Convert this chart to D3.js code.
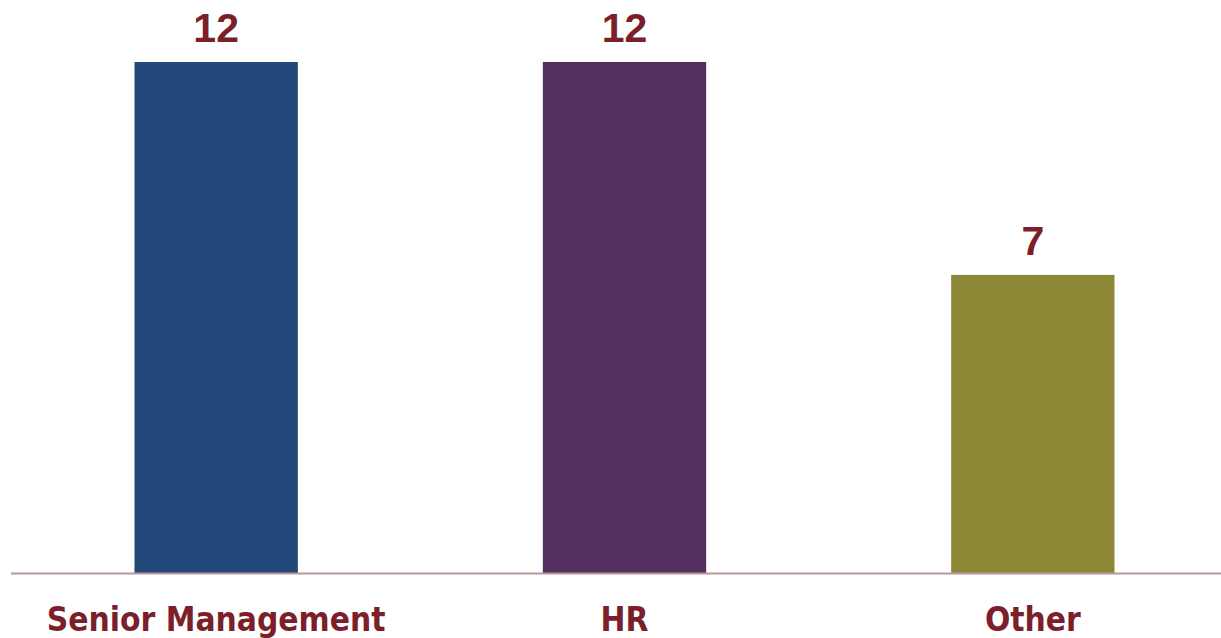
<!DOCTYPE html>
<html><head><meta charset="utf-8">
<script src="https://cdn.jsdelivr.net/npm/d3@7"></script>
<style>body{margin:0;background:#fff}svg{display:block}</style>
</head><body>
<svg id="c" width="1221" height="638"></svg>
<script>
const categories = ["Senior Management", "HR", "Other"];
const values = [12, 12, 7];
const colors = ["#224778", "#532F62", "#8C8734"];

const svg = d3.select("#c");
const baseY = 573;
const x = d3.scaleBand().domain(categories).range([12, 1237]).paddingInner(0.6).paddingOuter(0.3);
const y = d3.scaleLinear().domain([0, 12]).range([baseY, 62]);

svg.selectAll("rect.bar").data(values).join("rect")
  .attr("class","bar")
  .attr("x",(d,i)=>x(categories[i]))
  .attr("width",x.bandwidth())
  .attr("y",d=>y(d))
  .attr("height",d=>baseY-y(d))
  .attr("fill",(d,i)=>colors[i]);

svg.append("line").attr("x1",11).attr("x2",1221).attr("y1",baseY+0.5).attr("y2",baseY+0.5)
  .attr("stroke","#B9989C").attr("stroke-width",2);

svg.selectAll("text.val").data(values).join("text")
  .attr("class","val")
  .attr("x",(d,i)=>x(categories[i])+x.bandwidth()/2)
  .attr("y",d=>y(d)-20)
  .attr("text-anchor","middle")
  .attr("font-family","Liberation Sans, Arial, sans-serif")
  .attr("font-weight","bold")
  .attr("font-size",41)
  .attr("fill","#7B1F2B")
  .text(d=>d);

svg.selectAll("text.cat").data(categories).join("text")
  .attr("class","cat")
  .attr("x",d=>x(d)+x.bandwidth()/2)
  .attr("y",631)
  .attr("text-anchor","middle")
  .attr("font-family","DejaVu Sans Condensed, DejaVu Sans, sans-serif")
  .attr("font-weight","bold")
  .attr("font-size",33.2)
  .attr("fill","#7B1F2B")
  .text(d=>d);
</script>
</body></html>
